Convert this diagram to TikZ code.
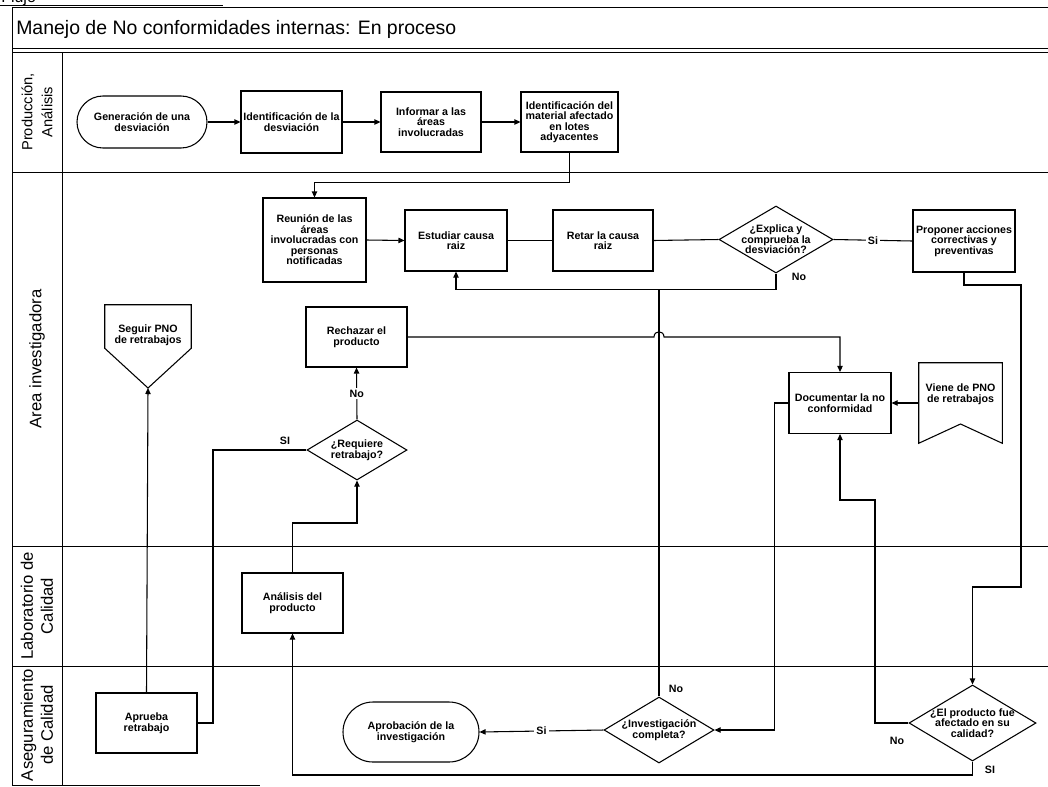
\documentclass[tikz,border=0pt]{standalone}
\usepackage{fontspec}
\setmainfont{Liberation Sans}
\usetikzlibrary{arrows.meta,shapes.geometric}
\newcommand\ntext{\fontsize{8}{7.9}\selectfont\bfseries}
\begin{document}
\begin{tikzpicture}[x=0.75pt,y=-0.75pt,
  frame/.style={line width=0.7pt,draw=black},
  ln/.style={line width=0.8pt,draw=black},
  arr/.style={ln,-{Triangle[length=4.5pt,width=4pt]}},
  box/.style={draw,line width=0.8pt,rectangle,inner sep=1pt,align=center,font=\ntext},
  stadium/.style={box},
  dia/.style={diamond,draw,line width=0.8pt,inner sep=0pt},
  txt/.style={align=center,font=\ntext,inner sep=0pt},
  lbl/.style={font=\ntext,inner sep=1pt},
  lblw/.style={font=\ntext,inner sep=1.5pt,fill=white},
  blank/.style={rectangle,inner sep=0pt},
  lane/.style={rotate=90,align=center,font=\fontsize{12.5}{15}\selectfont,inner sep=0pt}]
\useasboundingbox (0,0) rectangle (1048,786);

% frame
\node[anchor=base west,inner sep=0pt,font=\fontsize{12}{14}\selectfont] (flujo) at (1,2.5) {Flujo};
\draw[frame] (0,5) -- (223,5);
\draw[frame] (12,7) -- (1048,7);
\draw[frame] (12,7) -- (12,785);
\draw[frame] (12,48) -- (1048,48);
\draw[frame] (12,52) -- (1048,52);
\draw[frame] (62,52) -- (62,785);
\draw[frame] (12,172) -- (1048,172);
\draw[frame] (12,546) -- (1048,546);
\draw[frame] (12,666) -- (1048,666);
\draw[frame] (12,785) -- (260,785);
\node[anchor=base west,inner sep=0pt,font=\fontsize{14.6}{16}\selectfont] (title) at (16,34) {Manejo de No conformidades internas: En proceso};

% lane labels
\node[lane,font=\fontsize{11}{15}\selectfont] (lane1) at (37,112) {Producción,\\Análisis};
\node[lane] (lane2) at (37,359) {Area investigadora};
\node[lane] (lane3) at (37,606) {Laboratorio de\\Calidad};
\node[lane] (lane4) at (37,725) {Aseguramiento\\de Calidad};

% lane 1
\node[stadium,rounded corners=19.5pt,minimum width=97.5pt,minimum height=39pt] (gen) at (142,122) {Generación de una\\desviación};
\node[box,minimum width=75.75pt,minimum height=46.5pt] (ident) at (291.5,122) {Identificación de la\\desviación};
\node[box,minimum width=75pt,minimum height=45pt] (inform) at (431,122) {Informar a las\\áreas\\involucradas};
\node[box,minimum width=72.75pt,minimum height=45pt] (material) at (569.5,122) {Identificación del\\material afectado\\en lotes\\adyacentes};

% lane 2
\node[box,minimum width=77.25pt,minimum height=63pt] (reunion) at (314.5,240) {Reunión de las\\áreas\\involucradas con\\personas\\notificadas};
\node[box,minimum width=76.5pt,minimum height=45.75pt] (estudiar) at (456,240.5) {Estudiar causa\\raiz};
\node[box,minimum width=75pt,minimum height=45.75pt] (retar) at (603,240.5) {Retar la causa\\raiz};
\node[dia,minimum width=85.5pt,minimum height=50.25pt] (explica) at (776,239.5) {};
\node[txt] (explicaT) at (776,239.5) {¿Explica y\\comprueba la\\desviación?};
\node[box,minimum width=76.5pt,minimum height=46.5pt] (proponer) at (964,241) {Proponer acciones\\correctivas y\\preventivas};

\node[blank,minimum width=64.5pt,minimum height=32.25pt] (seguir) at (148,326.5) {};
\coordinate (seguirtip) at (148,388);
\draw[ln] (seguir.north west) -- (seguir.north east) -- (seguir.south east) -- (seguirtip) -- (seguir.south west) -- cycle;
\node[txt] (seguirT) at (148,335) {Seguir PNO\\de retrabajos};

\node[box,minimum width=75.75pt,minimum height=45pt] (rechazar) at (356.5,337) {Rechazar el\\producto};
\node[dia,minimum width=75pt,minimum height=45pt] (requiere) at (357,450) {};
\node[txt] (requiereT) at (357,450) {¿Requiere\\retrabajo?};
\node[box,minimum width=76.5pt,minimum height=45.75pt] (documentar) at (840,403) {Documentar la no\\conformidad};

\node[blank,minimum width=62.25pt,minimum height=60pt] (viene) at (960.5,403) {};
\coordinate (notch) at (960.5,424);
\draw[ln] (viene.north west) -- (viene.north east) -- (viene.south east) -- (notch) -- (viene.south west) -- cycle;
\node[txt] (vieneT) at (960.5,394) {Viene de PNO\\de retrabajos};

% lane 3
\node[box,minimum width=75.75pt,minimum height=45pt] (analisis) at (292.5,603) {Análisis del\\producto};

% lane 4
\node[box,minimum width=75.75pt,minimum height=45pt] (aprueba) at (146.5,723) {Aprueba\\retrabajo};
\node[stadium,rounded corners=22.5pt,minimum width=102pt,minimum height=45pt] (aprobacion) at (411,732) {Aprobación de la\\investigación};
\node[dia,minimum width=82.5pt,minimum height=49.5pt] (investig) at (659,730) {};
\node[txt] (investigT) at (659,730) {¿Investigación\\completa?};
\node[dia,minimum width=95.25pt,minimum height=57pt] (producto) at (972.5,723) {};
\node[txt] (productoT) at (972.5,723) {¿El producto fue\\afectado en su\\calidad?};

% helper coordinates
\coordinate (join) at (659,289.5);
\coordinate (r1) at (1021,285);
\coordinate (r2) at (1021,587);
\coordinate (l1) at (875,500);
\coordinate (bot) at (0,775);
\coordinate (m1) at (293,523);
\coordinate (s1) at (213,450);

% connectors
\draw[arr] (gen.east) -- (ident.west);
\draw[arr] (ident.east) -- (inform.west);
\draw[arr] (inform.east) -- (material.west);
\draw[arr] (material.south) -- ++(0,30) -| (reunion.north);
\draw[arr] (reunion.east) -- (estudiar.west);
\draw[ln] (estudiar.east) -- (retar.west);
\draw[ln] (retar.east) -- (explica.west);
\draw[ln] (explica.east) -- node[lblw] (siA) {Si} (proponer.west);
\draw[arr] (explica.south) -- (explica.south |- join) -| (estudiar.south);
\node[lbl] (noA) at (799,277) {No};
\draw[ln] (investig.north) -- (join);
\node[lbl] (noI) at (676,689) {No};
\draw[arr] (rechazar.east) -- (654,337) .. controls (654,330) and (664,330) .. (664,337) -| (documentar.north);
\draw[arr] (viene.west) -- (documentar.east);
\draw[arr] (documentar.west) -- ++(-14,0) |- (investig.east);
\draw[arr] (investig.west) -- node[lblw] (siI) {Si} (aprobacion.east);
\draw[arr] (proponer.south) |- (r1) -- (r2) -| (producto.north);
\draw[arr] (producto.west) -| (l1) -| (documentar.south);
\node[lbl] (noP) at (897,741) {No};
\draw[arr] (producto.south) -- (producto.south |- bot) -| (analisis.south);
\node[lbl] (siP) at (990,770) {SI};
\draw[arr] (analisis.north) -- (analisis.north |- m1) -| (requiere.south);
\draw[arr] (requiere.north) -- node[lblw] (noR) {No} (rechazar.south);
\draw[ln] (requiere.west) -- (s1) |- (aprueba.east);
\node[lbl] (siR) at (285,441) {SI};
\draw[arr] (aprueba.north) -- (seguirtip);
\end{tikzpicture}
\end{document}
